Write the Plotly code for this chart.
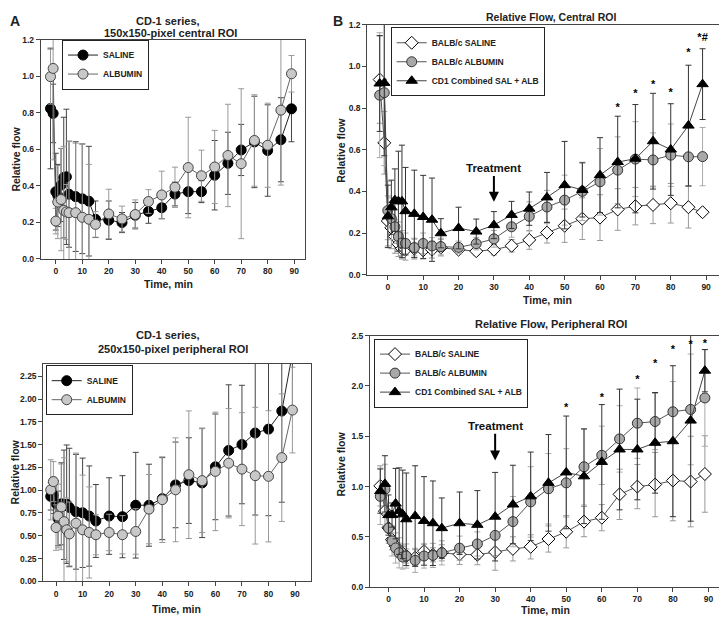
import plotly.graph_objects as go

# time points (min)
t_a = [-2, -1, 0, 0.75, 2, 3, 4, 5, 7.5, 10, 12.5, 15, 20, 25, 30, 35, 40, 45, 50, 55, 60, 65, 70, 75, 80, 85, 89]
t_b = [-2.3, -1, 0, 1, 2, 3, 4, 5, 7.5, 10, 12.5, 15, 20, 25, 30, 35, 40, 45, 50, 55, 60, 65, 70, 75, 80, 85, 89]

# A, central ROI (CD-1)
a_c_saline = [0.823, 0.796, 0.368, 0.347, 0.404, 0.445, 0.449, 0.354, 0.341, 0.329, 0.316, 0.217, 0.212, 0.199,
              0.239, 0.26, 0.28, 0.355, 0.368, 0.368, 0.458, 0.523, 0.596, 0.64, 0.593, 0.652, 0.821]
a_c_saline_err = [0.33, 0.16, 0.21, 0.17, 0.2, 0.33, 0.37, 0.29, 0.3, 0.3, 0.3, 0.1, 0.105, 0.055,
                  0.07, 0.065, 0.06, 0.065, 0.12, 0.06, 0.19, 0.17, 0.14, 0.25, 0.25, 0.23, 0.18]
a_c_albumin = [0.997, 1.042, 0.207, 0.311, 0.325, 0.266, 0.257, 0.253, 0.253, 0.228, 0.217, 0.189, 0.246, 0.219,
               0.243, 0.314, 0.35, 0.392, 0.5, 0.455, 0.503, 0.566, 0.521, 0.648, 0.622, 0.814, 1.013]
a_c_albumin_err = [0.15, 0.5, 0.07, 0.2, 0.28, 0.35, 0.15, 0.39, 0.38, 0.4, 0.3, 0.07, 0.135, 0.07,
                   0.08, 0.065, 0.13, 0.11, 0.275, 0.14, 0.2, 0.28, 0.41, 0.25, 0.23, 0.41, 0.1]

# A, peripheral ROI (CD-1)
a_p_saline = [0.932, 0.943, 0.853, 0.69, 0.85, 0.84, 0.846, 0.81, 0.763, 0.752, 0.716, 0.662, 0.716, 0.709,
              0.835, 0.835, 0.907, 1.058, 1.105, 1.08, 1.256, 1.436, 1.501, 1.627, 1.67, 1.868, 2.5]
a_p_saline_err = [0.15, 0.2, 0.25, 0.3, 0.45, 0.6, 0.65, 0.65, 0.63, 0.6, 0.55, 0.4, 0.42, 0.45,
                  0.58, 0.45, 0.45, 0.47, 0.47, 0.6, 0.58, 0.72, 0.65, 0.9, 0.95, 1.0, 0.6]
a_p_albumin = [1.004, 1.094, 0.59, 0.716, 0.817, 0.655, 0.565, 0.52, 0.637, 0.565, 0.536, 0.511, 0.536, 0.511,
               0.547, 0.792, 0.896, 1.004, 1.17, 1.105, 1.206, 1.296, 1.231, 1.159, 1.152, 1.357, 1.879]
a_p_albumin_err = [0.33, 0.22, 0.25, 0.35, 0.47, 0.7, 0.35, 0.35, 0.77, 0.6, 0.5, 0.22, 0.2, 0.21,
                   0.25, 0.38, 0.47, 0.57, 0.7, 0.57, 0.65, 0.6, 0.62, 0.75, 0.72, 0.7, 0.47]

# B, central ROI
b_c_saline = [0.937, 0.633, 0.258, 0.225, 0.183, 0.147, 0.125, 0.12, 0.125, 0.117, 0.12, 0.13, 0.12, 0.113,
              0.12, 0.139, 0.167, 0.202, 0.235, 0.269, 0.274, 0.313, 0.329, 0.335, 0.343, 0.324, 0.30]
b_c_saline_err = [0.21, 0.15, 0.12, 0.1, 0.08, 0.06, 0.05, 0.05, 0.05, 0.04, 0.04, 0.04, 0.02, 0.02,
                  0.025, 0.03, 0.045, 0.05, 0.08, 0.1, 0.11, 0.1, 0.09, 0.09, 0.095, 0.1, 0.0]
b_c_albumin = [0.862, 0.874, 0.308, 0.269, 0.23, 0.183, 0.152, 0.15, 0.13, 0.15, 0.138, 0.135, 0.131, 0.149,
               0.172, 0.23, 0.28, 0.325, 0.358, 0.4, 0.446, 0.502, 0.555, 0.551, 0.574, 0.566, 0.567]
b_c_albumin_err = [0.3, 0.35, 0.14, 0.1, 0.08, 0.07, 0.06, 0.05, 0.04, 0.05, 0.04, 0.04, 0.03, 0.03,
                   0.04, 0.05, 0.07, 0.08, 0.12, 0.14, 0.16, 0.16, 0.18, 0.13, 0.15, 0.14, 0.14]
b_c_cd1 = [0.918, 0.921, 0.28, 0.324, 0.358, 0.353, 0.352, 0.305, 0.292, 0.277, 0.264, 0.199, 0.224, 0.207,
           0.238, 0.287, 0.317, 0.371, 0.43, 0.407, 0.478, 0.541, 0.557, 0.641, 0.601, 0.716, 0.915]
b_c_cd1_err = [0.23, 0.35, 0.15, 0.13, 0.15, 0.24, 0.27, 0.21, 0.21, 0.2, 0.2, 0.07, 0.1, 0.06,
               0.065, 0.065, 0.08, 0.12, 0.21, 0.13, 0.18, 0.22, 0.26, 0.23, 0.22, 0.29, 0.17]
b_c_star_t = [65, 70, 75, 80, 85, 89]
b_c_star_y = [0.80, 0.865, 0.91, 0.87, 1.065, 1.135]
b_c_star_txt = ['*', '*', '*', '*', '*', '*#']

# B, peripheral ROI
b_p_saline = [1.007, 0.756, 0.59, 0.473, 0.408, 0.368, 0.336, 0.31, 0.293, 0.358, 0.322, 0.342, 0.326, 0.323,
              0.349, 0.381, 0.401, 0.479, 0.551, 0.652, 0.691, 0.923, 1.0, 1.02, 1.06, 1.05, 1.125]
b_p_saline_err = [0.2, 0.15, 0.12, 0.1, 0.08, 0.07, 0.07, 0.07, 0.08, 0.07, 0.07, 0.08, 0.1, 0.1,
                  0.18, 0.12, 0.12, 0.13, 0.16, 0.15, 0.13, 0.25, 0.22, 0.32, 0.4, 0.45, 0.38]
b_p_albumin = [0.903, 0.972, 0.587, 0.46, 0.39, 0.342, 0.3, 0.31, 0.267, 0.31, 0.316, 0.342, 0.388, 0.43,
               0.515, 0.652, 0.848, 0.978, 1.037, 1.197, 1.311, 1.474, 1.63, 1.647, 1.744, 1.767, 1.881]
b_p_albumin_err = [0.28, 0.25, 0.15, 0.15, 0.15, 0.15, 0.12, 0.12, 0.12, 0.12, 0.12, 0.12, 0.12, 0.12,
                   0.2, 0.25, 0.35, 0.35, 0.34, 0.38, 0.29, 0.33, 0.35, 0.28, 0.3, 0.55, 0.48]
b_p_cd1 = [0.955, 1.027, 0.717, 0.717, 0.831, 0.756, 0.724, 0.675, 0.707, 0.659, 0.636, 0.587, 0.636, 0.62,
           0.701, 0.822, 0.903, 1.037, 1.141, 1.102, 1.245, 1.369, 1.369, 1.435, 1.451, 1.656, 2.152]
b_p_cd1_err = [0.22, 0.28, 0.2, 0.12, 0.35, 0.43, 0.44, 0.46, 0.5, 0.44, 0.42, 0.3, 0.31, 0.34,
               0.44, 0.39, 0.44, 0.48, 0.56, 0.47, 0.57, 0.6, 0.5, 0.5, 0.75, 1.0, 0.21]
b_p_star_t = [50, 60, 70, 75, 80, 85, 89]
b_p_star_y = [1.777, 1.881, 2.054, 2.217, 2.357, 2.403, 2.413]

FONT = 'Liberation Sans, Arial, sans-serif'

# the page body has an 8px margin, so the figure is drawn 8px in from the corner
OFF = 8
W, H = 727 - OFF, 623 - OFF


def X(px):
    return (px - OFF) / W


def Y(py):
    return 1 - (py - OFF) / H


def series(x, y, err, name, xa, ya, leg, symbol, fill, mline, lcolor, ecolor):
    return go.Scatter(
        x=x, y=y, name=name, mode='lines+markers',
        xaxis=xa, yaxis=ya, legend=leg,
        line=dict(color=lcolor, width=1),
        marker=dict(symbol=symbol, size=10, color=fill, line=dict(color=mline, width=1)),
        error_y=dict(type='data', array=err, color=ecolor, thickness=1, width=3),
    )


fig = go.Figure()

# panel A top
fig.add_trace(series(t_a, a_c_saline, a_c_saline_err, 'SALINE', 'x', 'y', 'legend',
                     'circle', 'black', 'black', '#222', '#444'))
fig.add_trace(series(t_a, a_c_albumin, a_c_albumin_err, 'ALBUMIN', 'x', 'y', 'legend',
                     'circle', '#c8c8c8', '#444', '#666', '#999'))

# panel B top
fig.add_trace(series(t_b, b_c_saline, b_c_saline_err, 'BALB/c SALINE', 'x2', 'y2', 'legend2',
                     'diamond', 'white', 'black', '#555', '#999'))
fig.add_trace(series(t_b, b_c_albumin, b_c_albumin_err, 'BALB/c ALBUMIN', 'x2', 'y2', 'legend2',
                     'circle', '#a8a8a8', '#333', '#555', '#aaa'))
fig.add_trace(series(t_b, b_c_cd1, b_c_cd1_err, 'CD1 Combined SAL + ALB', 'x2', 'y2', 'legend2',
                     'triangle-up', 'black', 'black', '#444', '#333'))
fig.add_trace(go.Scatter(x=b_c_star_t, y=b_c_star_y, text=b_c_star_txt, mode='text', xaxis='x2', yaxis='y2',
                         showlegend=False, cliponaxis=False,
                         textfont=dict(family=FONT, size=11, color='black', weight='bold')))

# panel A bottom
fig.add_trace(series(t_a, a_p_saline, a_p_saline_err, 'SALINE', 'x3', 'y3', 'legend3',
                     'circle', 'black', 'black', '#222', '#444'))
fig.add_trace(series(t_a, a_p_albumin, a_p_albumin_err, 'ALBUMIN', 'x3', 'y3', 'legend3',
                     'circle', '#c8c8c8', '#444', '#666', '#999'))

# panel B bottom
fig.add_trace(series(t_b, b_p_saline, b_p_saline_err, 'BALB/c SALINE', 'x4', 'y4', 'legend4',
                     'diamond', 'white', 'black', '#555', '#999'))
fig.add_trace(series(t_b, b_p_albumin, b_p_albumin_err, 'BALB/c ALBUMIN', 'x4', 'y4', 'legend4',
                     'circle', '#a8a8a8', '#333', '#555', '#aaa'))
fig.add_trace(series(t_b, b_p_cd1, b_p_cd1_err, 'CD1 Combined SAL + ALB', 'x4', 'y4', 'legend4',
                     'triangle-up', 'black', 'black', '#444', '#333'))
fig.add_trace(go.Scatter(x=b_p_star_t, y=b_p_star_y, text=['*'] * len(b_p_star_t), mode='text',
                         xaxis='x4', yaxis='y4', showlegend=False, cliponaxis=False,
                         textfont=dict(family=FONT, size=11, color='black', weight='bold')))

tickfont = dict(family=FONT, size=8.5, color='#222', weight='bold')


def xax(left, right, rng, anchor):
    return dict(domain=[X(left), X(right)], range=rng, anchor=anchor, tickvals=list(range(0, 91, 10)),
                ticks='outside', ticklen=4, tickcolor='#444', showline=True, linecolor='#444',
                linewidth=1, mirror=True, showgrid=False, zeroline=False, tickfont=tickfont)


def yax(bottom, top, rng, anchor, dtick, fmt):
    return dict(domain=[Y(bottom), Y(top)], range=rng, anchor=anchor, dtick=dtick, tick0=0, tickformat=fmt,
                ticks='outside', ticklen=4, tickcolor='#444', showline=True, linecolor='#444',
                linewidth=1, mirror=True, showgrid=False, zeroline=False, tickfont=tickfont)


def legend(px, py):
    return dict(x=X(px), y=Y(py), xanchor='left', yanchor='top', bgcolor='white', bordercolor='#222',
                borderwidth=1, font=dict(family=FONT, size=8.5, color='#222', weight='bold'),
                itemwidth=30, tracegroupgap=0)


def label(px, py, text, size=11, angle=0):
    return dict(x=X(px), y=Y(py), xref='paper', yref='paper', text=text, showarrow=False, textangle=angle,
                xanchor='center', yanchor='middle',
                font=dict(family=FONT, size=size, color='#222', weight='bold'))


annotations = [
    label(15, 16, 'A', 14),
    label(338, 16, 'B', 14),
    label(168, 16, 'CD-1 series,'),
    label(170, 28, '150x150-pixel central ROI'),
    label(551, 12.5, 'Relative Flow, Central ROI', 10.5),
    label(168, 335.5, 'CD-1 series,'),
    label(173, 350, '250x150-pixel peripheral ROI'),
    label(551, 324, 'Relative Flow, Peripheral ROI'),
    label(168, 283, 'Time, min', 10.5),
    label(547, 300, 'Time, min', 10.5),
    label(176, 614, 'Time, min', 10.5),
    label(545, 615, 'Time, min', 10.5),
    label(16, 157, 'Relative flow', 10.5, -90),
    label(341, 148, 'Relative flow', 10.5, -90),
    label(15, 475, 'Relative flow', 10.5, -90),
    label(341, 467, 'Relative flow', 10.5, -90),
    dict(x=30, y=0.35, xref='x2', yref='y2', ax=30, ay=0.51, axref='x2', ayref='y2',
         text='Treatment', showarrow=True, arrowhead=2, arrowsize=1, arrowwidth=2, arrowcolor='black',
         font=dict(family=FONT, size=11.5, color='#111', weight='bold')),
    dict(x=30, y=1.26, xref='x4', yref='y4', ax=30, ay=1.6, axref='x4', ayref='y4',
         text='Treatment', showarrow=True, arrowhead=2, arrowsize=1, arrowwidth=2, arrowcolor='black',
         font=dict(family=FONT, size=11.5, color='#111', weight='bold')),
]

fig.update_layout(
    width=W, height=H,
    margin=dict(l=0, r=0, t=0, b=0),
    paper_bgcolor='white', plot_bgcolor='white',
    font=dict(family=FONT, color='#222'),
    xaxis=xax(40.7, 305, [-5.7, 94.1], 'y'),
    yaxis=yax(258, 35, [0, 1.2], 'x', 0.2, '.1f'),
    xaxis2=xax(367.3, 724.5, [-5.8, 95.2], 'y2'),
    yaxis2=yax(274, 20, [0, 1.2], 'x2', 0.2, '.1f'),
    xaxis3=xax(43.3, 311, [-4.8, 96.0], 'y3'),
    yaxis3=yax(585.7, 364.3, [0, 2.39], 'x3', 0.25, '.2f'),
    xaxis4=xax(370, 725.5, [-5.2, 94.8], 'y4'),
    yaxis4=yax(591.7, 336, [0, 2.5], 'x4', 0.5, '.1f'),
    legend=legend(62, 35),
    legend2=legend(390.7, 22.5),
    legend3=legend(45.7, 366),
    legend4=legend(374, 339),
    annotations=annotations,
)

fig.write_html("out.html")
